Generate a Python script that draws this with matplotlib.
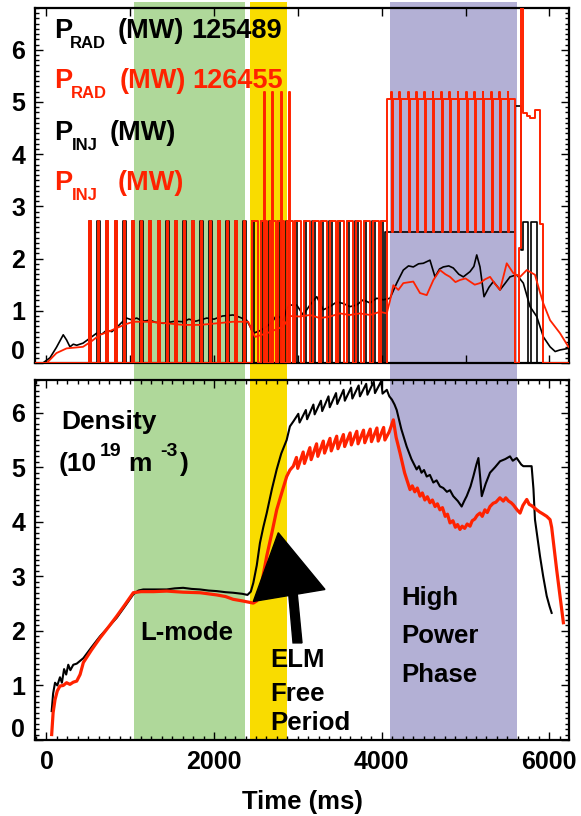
import matplotlib
matplotlib.use("Agg")
import matplotlib.pyplot as plt
from matplotlib.patches import Polygon
from matplotlib.ticker import FuncFormatter

W, H = 581, 816
plt.rcParams['font.family'] = ['Liberation Sans', 'DejaVu Sans']
plt.rcParams['font.weight'] = 'bold'

RED = '#ff2200'
GREEN = '#afd89a'
GOLD = '#f9dc00'
PURPLE = '#b3b0d5'

# shaded phases (ms)
lmode_span = (1047, 2369)
elmfree_span = (2428, 2866)
highpow_span = (4099, 5618)

# beam modulation (ms) - same timing both shots
inj_pulse_t = [511, 613, 716, 818, 921, 1023, 1126, 1228, 1331, 1433, 1536, 1638,
               1741, 1843, 1946, 2048, 2151, 2253, 2356, 2458, 2561, 2663, 2766,
               2868, 2971, 3073, 3176, 3278, 3381, 3483, 3586, 3688, 3791, 3893, 3996]
tall_spike_t = [2595, 2695, 2795, 2897]
hp_bump_t = [4119, 4218, 4318, 4417, 4516, 4615, 4715, 4814, 4913, 5013, 5112,
             5211, 5310, 5410, 5509]
INJ_LEVEL, HP_LOW, HP_TOP, HP_PEAK = 2.72, 2.5, 5.05, 5.2
red_tail_t = [5594, 5640, 5660, 5682, 5730, 5770, 5830, 5889, 5929, 6300]
red_tail_v = [0, 2.2, 7.0, 4.78, 4.74, 4.70, 4.85, 2.66, 0, 0]
blk_tail_t = [5594, 5659, 5686, 5750, 5778, 5850, 6300]
blk_tail_v = [4.92, 2.17, 2.7, 0, 2.7, 0, 0]

# radiated power (MW)
prad_blk_t = [-43, 42, 119, 200, 240, 280, 320, 361, 436, 522, 598, 660, 719, 780, 838,
              900, 956, 1010, 1077, 1150, 1235, 1300, 1392, 1435, 1530, 1631, 1700, 1780,
              1912, 2000, 2100, 2226, 2300, 2388, 2430, 2468, 2550, 2630, 2700, 2747, 2826,
              2870, 2905, 2986, 3063, 3144, 3225, 3303, 3383, 3463, 3541, 3622, 3701, 3780,
              3860, 3941, 4019, 4099, 4179, 4258, 4320, 4377, 4440, 4496, 4576, 4636, 4690,
              4735, 4800, 4854, 4920, 4974, 5054, 5100, 5134, 5173, 5221, 5280, 5332, 5412,
              5470, 5531, 5611, 5690, 5770, 5850, 5929, 6009, 6070, 6128, 6228]
prad_blk_v = [0.0, 0.1, 0.3, 0.54, 0.44, 0.31, 0.36, 0.34, 0.38, 0.48, 0.57, 0.55, 0.63,
              0.6, 0.68, 0.78, 0.86, 0.83, 0.86, 0.80, 0.82, 0.78, 0.76, 0.77, 0.80, 0.79,
              0.84, 0.80, 0.86, 0.84, 0.90, 0.92, 0.88, 0.82, 0.70, 0.57, 0.62, 0.70, 0.80,
              0.92, 0.82, 1.05, 1.11, 1.11, 0.92, 1.11, 1.27, 1.02, 1.08, 1.17, 1.14, 1.08,
              1.11, 1.21, 1.15, 1.24, 1.21, 1.24, 1.53, 1.78, 1.86, 1.84, 1.90, 1.91, 1.97,
              1.65, 1.80, 1.84, 1.86, 1.82, 1.70, 1.65, 1.75, 1.85, 2.07, 1.84, 1.27, 1.45,
              1.56, 1.40, 1.52, 1.65, 1.69, 1.53, 1.08, 0.89, 0.50, 0.31, 0.22, 0.25, 0.28]
prad_red_t = [3, 119, 240, 436, 540, 638, 740, 838, 940, 1036, 1235, 1435, 1631, 1833,
              2030, 2226, 2408, 2450, 2489, 2630, 2826, 2905, 3025, 3144, 3263, 3383, 3502,
              3622, 3741, 3860, 3980, 4060, 4100, 4139, 4199, 4258, 4377, 4457, 4537, 4617,
              4695, 4760, 4815, 4880, 4934, 5000, 5054, 5110, 5173, 5230, 5293, 5350, 5412,
              5492, 5571, 5651, 5731, 5829, 5880, 5929, 6009, 6128, 6228]
prad_red_v = [0.0, 0.19, 0.28, 0.31, 0.42, 0.54, 0.60, 0.67, 0.74, 0.79, 0.79, 0.76, 0.73,
              0.73, 0.76, 0.79, 0.79, 0.62, 0.50, 0.57, 0.70, 0.90, 0.89, 0.92, 0.86, 0.89,
              0.95, 0.92, 0.95, 0.92, 0.98, 0.95, 1.20, 1.49, 1.40, 1.53, 1.56, 1.34, 1.30,
              1.59, 1.78, 1.70, 1.65, 1.55, 1.59, 1.62, 1.56, 1.50, 1.53, 1.60, 1.65, 1.52,
              1.40, 1.91, 1.72, 1.65, 1.78, 1.69, 1.40, 1.14, 0.82, 0.57, 0.31]

# line-averaged density (1e19 m^-3)
ne_blk_t = [62, 79, 102, 129, 161, 184, 210, 235, 260, 285, 320, 361, 440, 537, 638, 739,
            838, 936, 1036, 1097, 1155, 1278, 1435, 1531, 1631, 1732, 1833, 1934, 2030,
            2136, 2226, 2337, 2398, 2438, 2468, 2509, 2547, 2587, 2628, 2690, 2747, 2801,
            2866, 2905, 2950, 3005, 3020, 3095, 3110, 3185, 3200, 3275, 3290, 3365, 3380,
            3455, 3470, 3545, 3560, 3635, 3650, 3725, 3740, 3815, 3830, 3905, 3920, 3995,
            4010, 4061, 4091, 4122, 4153, 4179, 4234, 4298, 4355, 4417, 4445, 4475, 4505,
            4537, 4575, 4616, 4655, 4695, 4735, 4778, 4815, 4854, 4909, 4954, 4984, 5014,
            5060, 5093, 5130, 5154, 5176, 5194, 5241, 5292, 5352, 5412, 5474, 5531, 5564,
            5611, 5665, 5690, 5765, 5789, 5811, 5829, 5889, 5927, 5969, 6003, 6028]
ne_blk_v = [0.53, 0.85, 1.05, 1.0, 1.15, 1.05, 1.3, 1.2, 1.38, 1.28, 1.38, 1.40, 1.5,
            1.7, 1.9, 2.07, 2.24, 2.45, 2.67, 2.74, 2.76, 2.76, 2.76, 2.78, 2.79, 2.77,
            2.76, 2.74, 2.73, 2.71, 2.70, 2.68, 2.66, 2.72, 2.88, 3.2, 3.61, 3.9, 4.16,
            4.6, 4.96, 5.25, 5.5, 5.75, 5.85, 5.98, 5.82, 6.05, 5.88, 6.15, 5.97, 6.22,
            6.03, 6.30, 6.10, 6.36, 6.16, 6.42, 6.22, 6.46, 6.26, 6.50, 6.30, 6.53, 6.33,
            6.57, 6.36, 6.58, 6.35, 6.42, 6.30, 6.24, 6.15, 6.05, 5.7, 5.38, 5.15, 4.96,
            5.02, 4.9, 4.95, 4.83, 4.86, 4.72, 4.76, 4.65, 4.62, 4.55, 4.58, 4.47, 4.38,
            4.28, 4.38, 4.47, 4.65, 4.83, 5.05, 5.17, 4.8, 4.47, 4.7, 4.90, 5.0, 5.11,
            5.15, 5.20, 5.12, 5.17, 5.05, 5.02, 5.02, 5.02, 4.6, 4.04, 3.37, 3.0, 2.64,
            2.45, 2.33]
ne_red_t = [62, 79, 102, 129, 161, 200, 240, 280, 320, 361, 401, 440, 537, 638, 739, 838,
            936, 1036, 1127, 1278, 1435, 1531, 1631, 1833, 2030, 2136, 2226, 2337, 2468,
            2509, 2559, 2628, 2690, 2747, 2811, 2866, 2905, 2945, 2983, 2998, 3063, 3078,
            3143, 3158, 3223, 3238, 3303, 3318, 3383, 3398, 3463, 3478, 3543, 3558, 3623,
            3638, 3703, 3718, 3783, 3798, 3863, 3878, 3943, 3958, 4023, 4038, 4090, 4139,
            4172, 4219, 4273, 4338, 4365, 4395, 4425, 4457, 4485, 4515, 4545, 4576, 4605,
            4637, 4665, 4695, 4725, 4758, 4785, 4815, 4850, 4879, 4905, 4934, 4960, 4990,
            5020, 5054, 5080, 5110, 5140, 5173, 5200, 5231, 5260, 5292, 5330, 5363, 5410,
            5451, 5480, 5514, 5545, 5571, 5615, 5651, 5685, 5731, 5760, 5786, 5820, 5850,
            5885, 5918, 5969, 6009, 6028, 6088, 6168]
ne_red_v = [0.1, 0.5, 0.74, 0.9, 0.99, 1.0, 1.05, 1.02, 1.06, 1.08, 1.2, 1.42, 1.65,
            1.87, 2.07, 2.27, 2.48, 2.70, 2.72, 2.72, 2.73, 2.72, 2.71, 2.70, 2.66, 2.63,
            2.58, 2.55, 2.51, 2.55, 2.8, 3.37, 3.8, 4.22, 4.55, 4.83, 4.95, 5.02, 5.18,
            4.98, 5.28, 5.07, 5.36, 5.14, 5.43, 5.2, 5.48, 5.26, 5.53, 5.3, 5.57, 5.34,
            5.6, 5.38, 5.63, 5.41, 5.66, 5.43, 5.68, 5.45, 5.70, 5.47, 5.72, 5.48, 5.73,
            5.5, 5.65, 5.87, 5.55, 5.26, 4.9, 4.59, 4.66, 4.55, 4.62, 4.47, 4.53, 4.40,
            4.46, 4.35, 4.40, 4.28, 4.33, 4.22, 4.26, 4.1, 4.14, 3.98, 4.02, 3.9, 3.95,
            3.86, 3.92, 3.88, 3.96, 3.92, 4.02, 4.05, 4.12, 4.16, 4.10, 4.22, 4.17, 4.28,
            4.34, 4.36, 4.44, 4.38, 4.44, 4.38, 4.35, 4.31, 4.22, 4.16, 4.3, 4.41, 4.32,
            4.3, 4.26, 4.22, 4.18, 4.15, 4.10, 4.04, 3.9, 3.12, 2.15]

# ---------------------------------------------------------------
fig = plt.figure(figsize=(W / 100, H / 100), dpi=100)
XLIM = (-137, 6235)
L, R = 35 / W, 569 / W

bg = fig.add_axes([L, 1 - 741 / H, R - L, (741 - 2) / H], zorder=-1)
bg.set_xlim(XLIM)
bg.axis('off')
for (a, b), c in zip([lmode_span, elmfree_span, highpow_span], [GREEN, GOLD, PURPLE]):
    bg.axvspan(a, b, color=c, lw=0)

ax1 = fig.add_axes([L, 1 - 363 / H, R - L, (363 - 8) / H])
ax2 = fig.add_axes([L, 1 - 740 / H, R - L, (740 - 380) / H])

# the "0" label is drawn by hand a little above the axis corner
no_zero = FuncFormatter(lambda v, pos: '' if abs(v) < 1e-9 else '%g' % v)

for ax in (ax1, ax2):
    ax.set_facecolor('none')
    ax.set_xlim(XLIM)
    for s in ax.spines.values():
        s.set_linewidth(1.6)
    ax.tick_params(which='both', direction='in', top=True, right=True, width=1.0,
                   labelsize=18, pad=7)
    ax.tick_params(which='major', length=6)
    ax.tick_params(which='minor', length=3)
    ax.yaxis.set_major_locator(plt.MultipleLocator(1))
    ax.yaxis.set_minor_locator(plt.MultipleLocator(0.1))
    ax.yaxis.set_major_formatter(no_zero)

ax1.set_ylim(0, 6.8)
ax1.xaxis.set_major_locator(plt.MultipleLocator(1000))
ax1.set_xticklabels([])
ax2.set_ylim(0, 6.6)
ax2.xaxis.set_major_locator(plt.MultipleLocator(2000))
ax2.xaxis.set_minor_locator(plt.MultipleLocator(125))
ax2.xaxis.set_major_formatter(FuncFormatter(lambda v, pos: '%d' % v))

# injected power step traces
blk_t, blk_v = [-150], [0]
red_t, red_v = [-150], [0]
for p in inj_pulse_t:
    blk_t += [p - 6, p + 24]
    blk_v += [INJ_LEVEL, 0]
    w = 18 if p < elmfree_span[0] else 70
    red_t += [p, p + w]
    red_v += [INJ_LEVEL, 0]
blk_t += [4040] + blk_tail_t
blk_v += [HP_LOW] + blk_tail_v
red_t.append(4060)
red_v.append(HP_TOP)
for b in hp_bump_t:
    red_t += [b - 6, b + 2, b + 14]
    red_v += [HP_PEAK, HP_LOW, HP_TOP]
red_t += red_tail_t
red_v += red_tail_v

ax1.step(blk_t, blk_v, where='post', color='k', lw=1.2, zorder=2)
ax1.plot(prad_blk_t, prad_blk_v, color='k', lw=1.2, zorder=3)
ax1.step(red_t, red_v, where='post', color=RED, lw=1.4, zorder=4)
for s in tall_spike_t:
    ax1.plot([s, s, s + 12, s + 12], [0, HP_PEAK, HP_PEAK, 0], color=RED, lw=1.4, zorder=4)
ax1.plot(prad_red_t, prad_red_v, color=RED, lw=1.3, zorder=5)

ax2.plot(ne_blk_t, ne_blk_v, color='k', lw=1.5, zorder=3)
ax2.plot(ne_red_t, ne_red_v, color=RED, lw=2.3, zorder=4)

# arrow pointing at the L-H transition
ax2.add_patch(Polygon([(2468, 2.54), (2766, 3.80), (3323, 2.76)], closed=True,
                      color='k', zorder=6))
ax2.add_patch(Polygon([(2866, 3.1), (2966, 3.1), (3049, 1.78), (2942, 1.78)],
                      closed=True, color='k', zorder=6))


def ftxt(px, py, s, size, color='k', ha='left', va='baseline'):
    fig.text(px / W, 1 - py / H, s, fontsize=size, color=color, fontweight='bold',
             ha=ha, va=va)


ftxt(25, 352, '0', 18, ha='right', va='center')
ftxt(25, 730, '0', 18, ha='right', va='center')

# legend-like labels
for py, col, sub, subx, mwx, shot, shotx in [
        (38, 'k', 'RAD', 70, 118, '125489', 191),
        (88, RED, 'RAD', 71, 120, '126455', 192),
        (140, 'k', 'INJ', 72, 110, '', 0),
        (190, RED, 'INJ', 72, 118, '', 0)]:
    ftxt(54, py, 'P', 19.5, col)
    ftxt(subx, py + 10, sub, 12, col)
    ftxt(mwx, py, '(MW)', 19.5, col)
    if shot:
        ftxt(shotx, py, shot, 19.5, col)

ftxt(61, 429, 'Density', 19)
ftxt(59, 471, '(10', 19)
ftxt(100, 456, '19', 14)
ftxt(128, 471, 'm', 19)
ftxt(160, 456, '-3', 14)
ftxt(180, 471, ')', 19)

ftxt(140, 640, 'L-mode', 18.5)
ftxt(270, 667, 'ELM', 18.5)
ftxt(270, 701, 'Free', 18.5)
ftxt(270, 730, 'Period', 18.5)
ftxt(401, 605, 'High', 18.5)
ftxt(401, 643, 'Power', 18.5)
ftxt(401, 682, 'Phase', 18.5)

fig.text(302 / W, 1 - 809 / H, 'Time (ms)', fontsize=18.5, fontweight='bold',
         ha='center', va='baseline')

fig.savefig('out.png', dpi=100)
